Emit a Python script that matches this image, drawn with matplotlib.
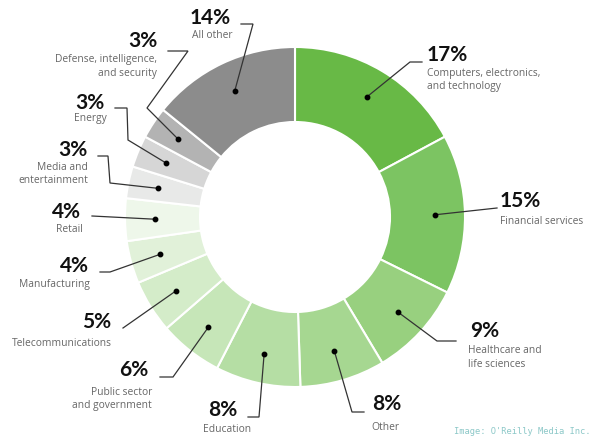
import numpy as np
import matplotlib
matplotlib.use("Agg")
import matplotlib.pyplot as plt

# ---- data ----
categories = ["Computers, electronics,\nand technology", "Financial services",
              "Healthcare and\nlife sciences", "Other", "Education",
              "Public sector\nand government", "Telecommunications", "Manufacturing",
              "Retail", "Media and\nentertainment", "Energy",
              "Defense, intelligence,\nand security", "All other"]
values = [17, 15, 9, 8, 8, 6, 5, 4, 4, 3, 3, 3, 14]
colors = ["#68b946", "#7cc462", "#98d07f", "#a6d791", "#b5dea4", "#c6e6b8",
          "#d4ecc9", "#e1f1d9", "#eef7ea", "#e8e9e8", "#d6d6d6", "#b3b3b3", "#8c8c8c"]

# ---- layout (pixel coordinates, y downward) ----
CX, CY, R, RIN, RDOT = 295, 217, 170, 95, 140
pct_pos = [(447, 55), (520, 201), (485, 331), (387, 404), (223, 410), (134, 370),
           (97, 322), (74, 266), (66, 212), (73, 150), (90, 103), (143, 41), (210, 18)]
desc_pos = [(427, 80, 'left'), (500, 221, 'left'), (468, 357.5, 'left'),
            (385, 427, 'center'), (227, 429, 'center'), (152, 399, 'right'),
            (62, 343, 'center'), (54, 284, 'center'), (69, 229, 'center'),
            (88, 174, 'right'), (90, 119, 'center'), (157, 66.5, 'right'),
            (212, 36, 'center')]
leader_pts = [[(422, 62), (410, 62)], [(497, 208)], [(456, 341), (437, 341)],
              [(364, 412), (352, 412)], [(248, 417), (259, 417)],
              [(160, 377), (173, 377)], [(123, 328)], [(100, 272), (110, 272)],
              [(92, 216)], [(98, 156), (108, 156), (110, 183)],
              [(115, 108), (127, 108), (128, 140)],
              [(168, 51), (188, 51), (147, 108)], [(241, 24), (253, 24)]]

fig = plt.figure(figsize=(5.98, 4.41), dpi=100)
ax = fig.add_axes([0, 0, 1, 1])

ax.pie(values, colors=colors, startangle=-90, counterclock=True,
       center=(CX, CY), radius=R,
       wedgeprops=dict(width=R - RIN, edgecolor="white", linewidth=1.5))

ax.set_xlim(0, 598)
ax.set_ylim(441, 0)
ax.set_aspect("equal", adjustable="box")
ax.axis("off")

total = sum(values)
cum = np.cumsum([0] + values)
for i, v in enumerate(values):
    mid = (cum[i] + v / 2) / total * 360.0 - 90.0
    th = np.deg2rad(mid)
    dx, dy = CX + RDOT * np.cos(th), CY + RDOT * np.sin(th)
    pts = leader_pts[i] + [(dx, dy)]
    xs = [p[0] for p in pts]
    ys = [p[1] for p in pts]
    ax.plot(xs, ys, color="#333333", lw=0.9, solid_joinstyle="miter", zorder=5)
    ax.plot([dx], [dy], "o", color="black", ms=3.2, zorder=6)
    px, py = pct_pos[i]
    ax.text(px, py, f"{v}%", ha="center", va="center", fontsize=15,
            fontweight="bold", family="Lato", color="#111111")
    tx, ty, ha = desc_pos[i]
    ax.text(tx, ty, categories[i], ha=ha, va="center", multialignment=ha,
            fontsize=7.4, family="Open Sans", color="#666666", linespacing=1.3)

ax.text(590, 431, "Image: O'Reilly Media Inc.", ha="right", va="center",
        fontsize=6.3, family="DejaVu Sans Mono", color="#8cc8c8")

fig.savefig("out.png", dpi=100)
